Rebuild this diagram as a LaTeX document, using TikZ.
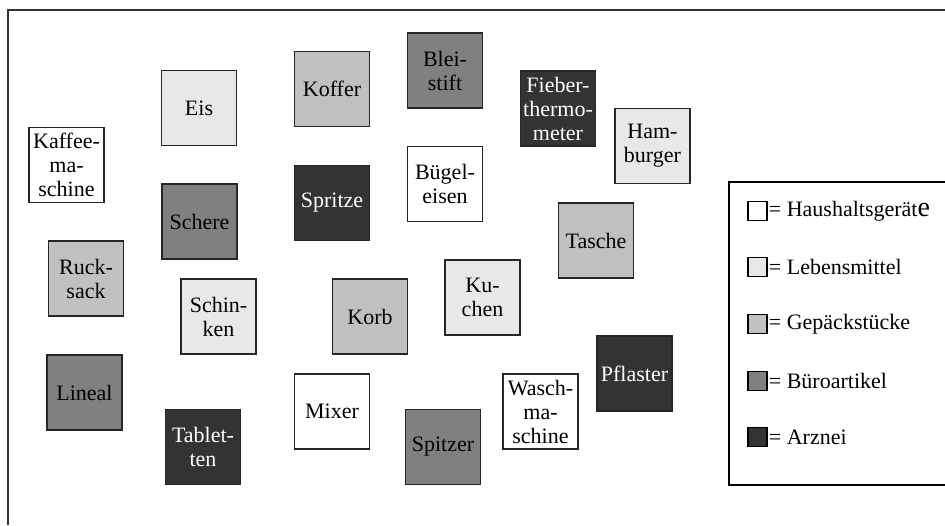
\documentclass[tikz,border=0pt]{standalone}
\usepackage{fontspec}
\setmainfont{Liberation Serif}
\usetikzlibrary{positioning}
\definecolor{hgfill}{HTML}{FFFFFF}
\definecolor{lmfill}{HTML}{E8E8E8}
\definecolor{gpfill}{HTML}{C0C0C0}
\definecolor{bafill}{HTML}{808080}
\definecolor{azfill}{HTML}{333333}
\tikzset{
    itembox/.style={rectangle, draw=black!85, line width=1.6pt, minimum size=75pt, inner sep=1pt, align=center, font=\fontsize{22}{24}\selectfont},
    hgbox/.style={itembox, fill=hgfill},
    lmbox/.style={itembox, fill=lmfill},
    gpbox/.style={itembox, fill=gpfill},
    babox/.style={itembox, fill=bafill},
    azbox/.style={itembox, fill=azfill, text=white},
    legkey/.style={rectangle, draw=black, line width=1.4pt, minimum size=19pt, inner sep=0pt},
    legtext/.style={anchor=west, inner sep=0pt, font=\fontsize{22}{24}\selectfont},
    framed/.style={line width=1.6pt, draw=black!80}
}

\begin{document}
\begin{tikzpicture}[x=1pt, y=-1pt]
    \useasboundingbox (0,0) rectangle (945,525);
    % Frame
    \draw[framed] (8,525) -- (8,10) -- (945,10);

    % Items
    \node[hgbox] (kaffee) at (66.5,165) {Kaffee-\\ma-\\schine};
    \node[lmbox] (eis) at (199,108) {Eis};
    \node[gpbox] (koffer) at (332,89) {Koffer};
    \node[babox] (blei) at (445,70.5) {Blei-\\stift};
    \node[azbox] (fieber) at (558,108.5) {Fieber-\\thermo-\\meter};
    \node[lmbox] (hamburger) at (652.5,146) {Ham-\\burger};
    \node[babox] (schere) at (199.5,221.5) {Schere};
    \node[azbox] (spritze) at (332,203) {Spritze};
    \node[hgbox] (buegel) at (445,184) {Bügel-\\eisen};
    \node[gpbox] (tasche) at (596,240.5) {Tasche};
    \node[gpbox] (rucksack) at (86,278.5) {Ruck-\\sack};
    \node[lmbox] (schinken) at (218.5,316.5) {Schin-\\ken};
    \node[gpbox] (korb) at (370,316.5) {Korb};
    \node[lmbox] (kuchen) at (482.5,297.5) {Ku-\\chen};
    \node[babox] (lineal) at (84.5,392.5) {Lineal};
    \node[hgbox] (mixer) at (332,411.5) {Mixer};
    \node[hgbox] (wasch) at (540.5,411.5) {Wasch-\\ma-\\schine};
    \node[azbox] (pflaster) at (634.5,373.5) {Pflaster};
    \node[azbox] (tabletten) at (203,447) {Tablet-\\ten};
    \node[babox] (spitzer) at (443,447) {Spitzer};

    % Legend
    \draw[line width=1.6pt] (945,182) -- (729,182) -- (729,485) -- (945,485);
    \node[legkey, fill=hgfill] (khg) at (757.5,211) {};
    \node[legkey, fill=lmfill] (klm) at (757.5,267) {};
    \node[legkey, fill=gpfill] (kgp) at (757.5,324) {};
    \node[legkey, fill=bafill] (kba) at (757.5,381) {};
    \node[legkey, fill=azfill] (kaz) at (757.5,437) {};
    \node[legtext, right=1pt of khg] (thg) {= Haushaltsgerät{\fontsize{28}{28}\selectfont e}};
    \node[legtext, right=1pt of klm] (tlm) {= Lebensmittel};
    \node[legtext, right=1pt of kgp] (tgp) {= Gepäckstücke};
    \node[legtext, right=1pt of kba] (tba) {= Büroartikel};
    \node[legtext, right=1pt of kaz] (taz) {= Arznei};
\end{tikzpicture}
\end{document}
